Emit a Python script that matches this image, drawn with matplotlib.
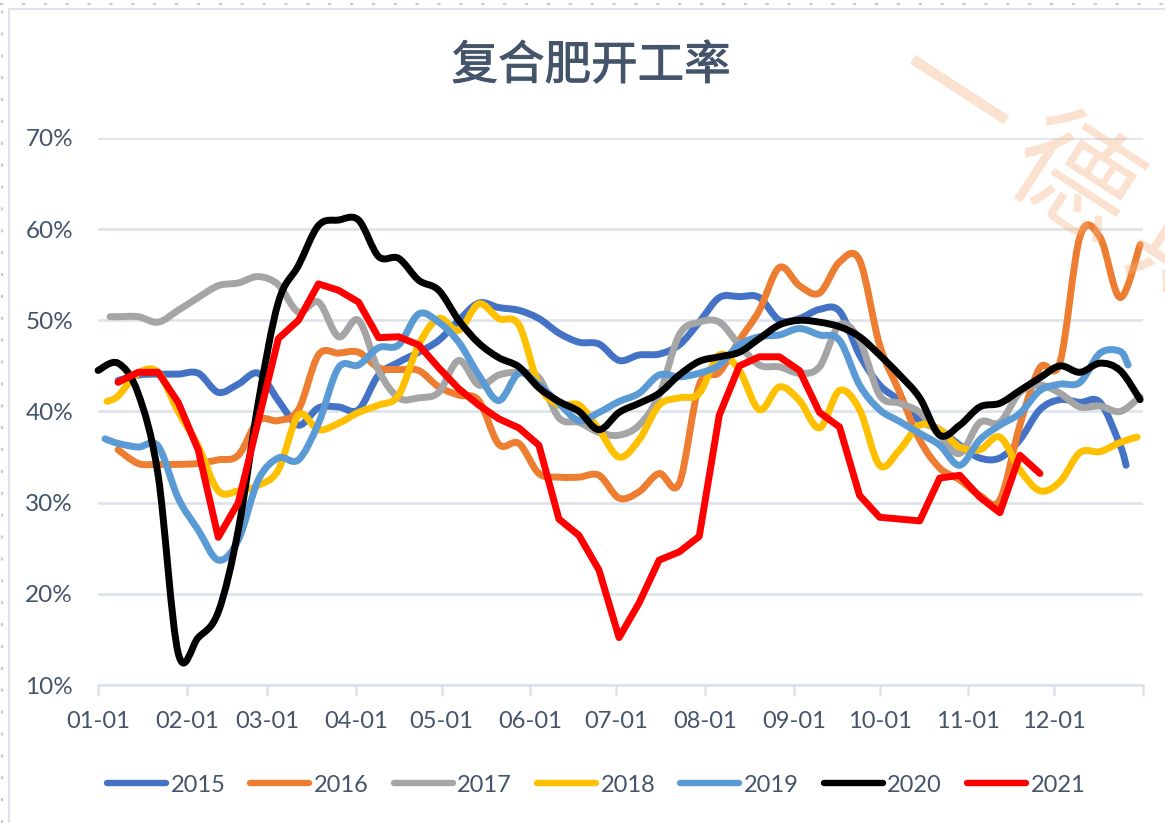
import numpy as np
import matplotlib
matplotlib.use("Agg")
import matplotlib.pyplot as plt
from matplotlib.path import Path
from matplotlib.patches import PathPatch
from matplotlib.lines import Line2D

title = "复合肥开工率"
month_labels = ["01-01","02-01","03-01","04-01","05-01","06-01","07-01","08-01","09-01","10-01","11-01","12-01"]
month_days = [0,31,59,90,120,151,181,212,243,273,304,334,365]
y_ticks = [10,20,30,40,50,60,70]

v2015 = [43.4,44,44.1,44.1,44.2,42.1,43,44.2,41.2,38.5,40.4,40.5,40.2,44,45.4,46.5,47.8,50,51.9,51.4,51.1,50.2,48.6,47.6,47.4,45.6,46.2,46.3,47.3,49.8,52.5,52.6,52.5,50,50.2,51.2,51,46.2,42.9,41.2,39,38,36.3,34.9,34.9,36.9,40.2,41.3,41,41,36.3,34.1]
w2015 = list(range(1,52))+[51.3]
v2016 = [35.8,34.3,34.2,34.2,34.3,34.7,35.2,39,39,40.2,46.2,46.4,46.5,44.8,44.6,44.5,42.7,41.8,41.2,36.4,36.5,33.2,32.8,32.8,33,30.5,31.2,33.2,32.1,42.9,44.3,47.8,51.1,55.8,53.8,53,56.4,56.6,47.3,42.1,36.9,33.8,32.5,30.8,30.3,38.5,44.8,45.4,59.2,59.1,52.5,58.3]
w2016 = list(range(1,53))
v2017 = [50.4,50.4,50.4,49.8,51.1,52.5,53.8,54.1,54.8,53.9,50.9,52,48.2,50,44.5,41.5,41.5,42.1,45.6,42.9,44,44.3,43.7,39.3,38.8,37.7,37.4,38.5,41.8,48.4,49.8,49.8,47.3,45.1,44.9,44.2,44.9,49.5,47.8,41.8,40.9,39.9,37.4,35.4,38.8,38.8,42.1,42.9,42,40.5,40.6,40,41.6]
w2017 = [0.6]+list(range(1,52))+[52]
v2018 = [41.1,41.7,44.2,44.3,40,36.2,31.3,31.3,31.9,33.6,39.6,38,38.7,39.9,40.7,41.8,47.3,50.2,48.9,51.8,50.2,49.5,42.9,40.7,40.7,38,35,36.9,40.7,41.5,42,46.2,44.5,40.2,42.7,41.2,38.2,42.3,40.2,34.1,35.8,38.5,38,36.1,35.8,37.2,33.6,31.3,32.3,35.5,35.6,36.6,37.2]
w2018 = [0.45]+list(range(1,52))+[51.85]
v2019 = [37,36.5,36.1,36.2,30.5,27,23.7,25.9,32.5,34.9,34.7,38.7,44.8,45.1,47,47.3,50.7,49.8,47.6,44,41.2,44.2,42.9,40.9,39,39.9,41.1,42,44,43.8,44.2,45.1,47.3,48.2,48.4,49.1,48.4,47.8,42.9,40.2,38.9,37.6,36.3,34.1,36.9,38.5,39.8,42.3,43,43.2,46.4,46.6,45.1]
w2019 = [0.35]+list(range(1,52))+[51.4]
v2020 = [44.5,45.3,42,33,13.5,15.2,18,27,41,52,56,60.4,61,61,57,56.8,54.4,53.3,50,47.5,45.9,44.9,42.6,41.1,40,38,39.9,40.9,42,44,45.5,46,46.5,48,49.5,50,49.8,49.3,48.2,46.2,44,41.5,37.4,38.5,40.5,40.9,42.3,43.7,45,44.3,45.3,44.5,41.3]
w2020 = list(range(0,53))
v2021 = [43.2,44.3,44.3,41,35.8,26.2,30,39,48,50,54,53.3,52,48.1,48.2,47.3,44.8,42.5,40.7,39.2,38.2,36.3,28.2,26.4,22.6,15.2,19,23.7,24.6,26.3,39.6,45,46,46,44.5,39.9,38.3,30.8,28.4,28.2,28,32.7,33,30.6,28.9,35.2,33.2]
w2021 = list(range(1,48))

years = ["2015","2016","2017","2018","2019","2020","2021"]
weeks = [w2015,w2016,w2017,w2018,w2019,w2020,w2021]
vals = [v2015,v2016,v2017,v2018,v2019,v2020,v2021]
colors = ["#4472C4","#ED7D31","#A5A5A5","#FFC000","#5B9BD5","#000000","#FF0000"]
smooth = [True]*6+[False]

W,H = 1165,823
TXT = "#44546A"; GRID = "#DEE3EB"
plt.rcParams['font.family'] = ['Lato','Noto Sans CJK SC','DejaVu Sans']
fig = plt.figure(figsize=(W/100,H/100),dpi=100,facecolor="white")
ax = fig.add_axes([98/W,1-685/H,(1143-98)/W,(685-138)/H])
ax.set_xlim(0,365); ax.set_ylim(10,70)

def bezier_path(x,y,curved):
    x=np.asarray(x,float); y=np.asarray(y,float)
    if not curved:
        return Path(np.column_stack([x,y]))
    n=len(x)
    verts=[(x[0],y[0])]; codes=[Path.MOVETO]
    for i in range(n-1):
        p0=i-1 if i>0 else 0
        p3=i+2 if i+2<n else n-1
        c1=(x[i]+(x[i+1]-x[p0])/6, y[i]+(y[i+1]-y[p0])/6)
        c2=(x[i+1]-(x[p3]-x[i])/6, y[i+1]-(y[p3]-y[i])/6)
        verts+= [c1,c2,(x[i+1],y[i+1])]
        codes+= [Path.CURVE4]*3
    return Path(verts,codes)

for i,(yr,w,v,c,s) in enumerate(zip(years,weeks,vals,colors,smooth)):
    days=np.asarray(w,float)*7
    ax.add_patch(PathPatch(bezier_path(days,v,s),facecolor="none",edgecolor=c,lw=5.0,
                           capstyle="round",joinstyle="round",zorder=3+i,clip_on=False))

for s in ["top","right","left"]:
    ax.spines[s].set_visible(False)
ax.spines["bottom"].set_color(GRID); ax.spines["bottom"].set_linewidth(1.8)
ax.set_yticks(y_ticks); ax.set_yticklabels([f"{t}%" for t in y_ticks])
ax.set_xticks(month_days)
ax.set_xticklabels(month_labels+[""])
ax.tick_params(axis="y",length=0,pad=18,labelsize=17.5,labelcolor=TXT)
ax.tick_params(axis="x",length=8,width=1.8,color=GRID,pad=11,labelsize=17,labelcolor=TXT)
ax.grid(axis="y",color=GRID,lw=1.9); ax.set_axisbelow(True)

fig.text(591/W,1-66/H,title,ha="center",va="center",fontsize=33.5,color=TXT,family=['Noto Sans CJK SC','DejaVu Sans'],
         path_effects=[__import__("matplotlib.patheffects",fromlist=["withStroke"]).withStroke(linewidth=0.7,foreground=TXT)])

handles=[Line2D([],[],color=c,lw=4.6,solid_capstyle="round") for c in colors]
fig.legend(handles,years,loc="center",bbox_to_anchor=(596/W,1-785/H),ncols=7,frameon=False,
           fontsize=17,labelcolor=TXT,handlelength=2.5,handletextpad=0.2,columnspacing=1.05,
           borderpad=0,borderaxespad=0)

# frame decorations
fig.add_artist(Line2D([9/W,9/W],[0,1-9/H],color=GRID,lw=1.5))
fig.add_artist(Line2D([9/W,1],[1-9/H,1-9/H],color=GRID,lw=1.5))
fig.add_artist(Line2D([2/W,2/W],[0,1],color="#C8C8C8",lw=1.5,ls=(0,(1.5,9))))
fig.add_artist(Line2D([0,1],[1-4/H,1-4/H],color="#C8C8C8",lw=1.5,ls=(0,(1.5,9))))

# watermark
for ch,(cx,cy) in zip("一德期",[(950,103),(1070,184),(1190,266)]):
    fig.text(cx/W,1-cy/H,ch,ha="center",va="center",rotation=-33,fontsize=88,color="#F4B183",alpha=0.38,
             family=['Noto Sans CJK SC','DejaVu Sans'],zorder=20)

fig.savefig("out.png",dpi=100)
